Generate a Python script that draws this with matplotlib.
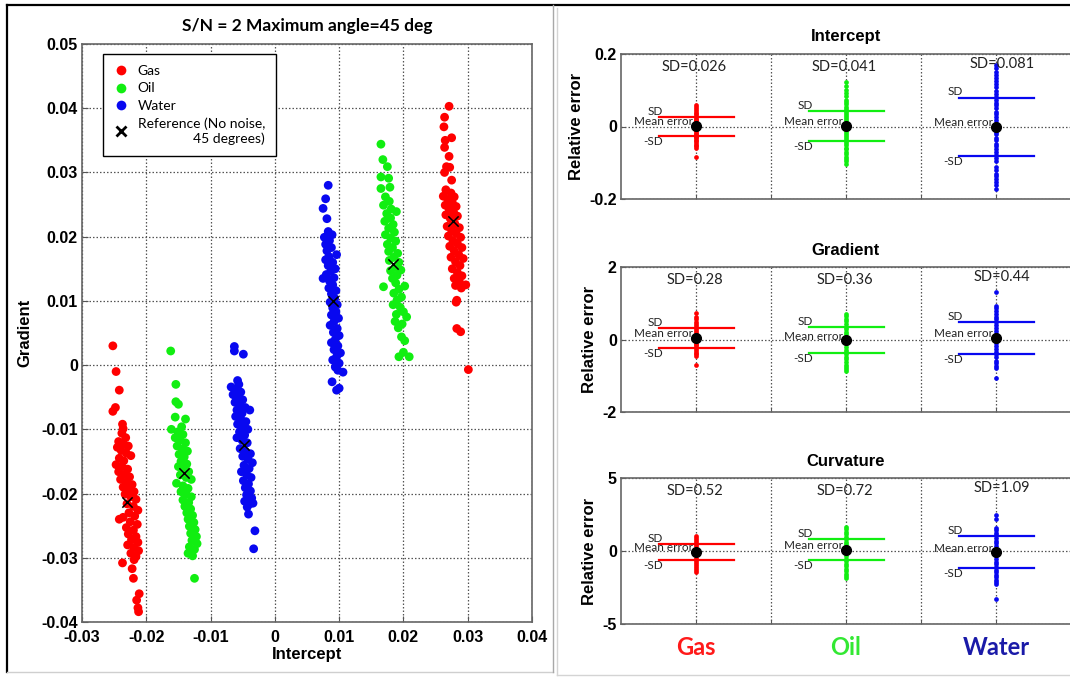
import numpy as np
import matplotlib.pyplot as plt
from matplotlib.lines import Line2D
from matplotlib.ticker import FuncFormatter
from matplotlib.transforms import blended_transform_factory

plt.rcParams['font.family'] = ['Liberation Sans', 'DejaVu Sans']
plt.rcParams['axes.unicode_minus'] = False

# ---- crossplot: intercept vs gradient, two reflectors per fluid ----
gas_x = [-0.0252, -0.0247, -0.0242, -0.0248, -0.0252, -0.0237, -0.0236,
         -0.0238, -0.0232, -0.0243, -0.0236, -0.0228, -0.0245, -0.0239, -0.0231, -0.0224, -0.0242,
         -0.0235, -0.0247, -0.0238, -0.0229, -0.0243, -0.0234, -0.0226, -0.0240, -0.0231, -0.0222,
         -0.0236, -0.0228, -0.0219, -0.0233, -0.0224, -0.0216, -0.0230, -0.0220, -0.0213, -0.0227,
         -0.0218, -0.0236, -0.0225, -0.0214, -0.0231, -0.0220, -0.0228, -0.0216, -0.0223, -0.0213,
         -0.0229, -0.0219, -0.0212, -0.0224, -0.0216, -0.0219,
         -0.0242, -0.0237, -0.0222, -0.0220, -0.0211, -0.0215, -0.0212, -0.0213,
         0.0271, 0.0264, 0.0263, 0.0275, 0.0265, 0.0264, 0.0271, 0.0267, 0.0272, 0.0264, 0.0275,
         0.0266, 0.0274, 0.0262, 0.0279, 0.0269, 0.0276, 0.0265, 0.0282, 0.0271, 0.0278, 0.0266,
         0.0284, 0.0273, 0.0280, 0.0268, 0.0287, 0.0275, 0.0282, 0.0270, 0.0289, 0.0277, 0.0284,
         0.0272, 0.0291, 0.0279, 0.0286, 0.0274, 0.0293, 0.0281, 0.0288, 0.0276, 0.0284, 0.0291,
         0.0279, 0.0287, 0.0281, 0.0290,
         0.0297, 0.0283, 0.0282, 0.0283, 0.0289, 0.0301]
gas_y = [0.0030, -0.0010, -0.0039, -0.0066, -0.0072, -0.0092, -0.0099,
         -0.0106, -0.0113, -0.0119, -0.0123, -0.0126, -0.0128, -0.0133, -0.0137, -0.0141, -0.0145,
         -0.0149, -0.0155, -0.0158, -0.0162, -0.0166, -0.0170, -0.0174, -0.0178, -0.0182, -0.0186,
         -0.0190, -0.0194, -0.0197, -0.0201, -0.0205, -0.0209, -0.0216, -0.0220, -0.0226, -0.0230,
         -0.0235, -0.0237, -0.0244, -0.0248, -0.0253, -0.0257, -0.0263, -0.0267, -0.0272, -0.0276,
         -0.0280, -0.0284, -0.0289, -0.0293, -0.0298, -0.0303,
         -0.0240, -0.0308, -0.0317, -0.0332, -0.0356, -0.0366, -0.0384, -0.0378,
         0.0403, 0.0386, 0.0371, 0.0354, 0.0350, 0.0339, 0.0325, 0.0309, 0.0308, 0.0300, 0.0288,
         0.0273, 0.0268, 0.0263, 0.0262, 0.0258, 0.0253, 0.0249, 0.0247, 0.0243, 0.0238, 0.0234,
         0.0232, 0.0228, 0.0220, 0.0216, 0.0214, 0.0210, 0.0205, 0.0201, 0.0199, 0.0194, 0.0189,
         0.0185, 0.0183, 0.0178, 0.0172, 0.0168, 0.0166, 0.0161, 0.0155, 0.0150, 0.0144, 0.0139,
         0.0135, 0.0130, 0.0124, 0.0120,
         0.0125, 0.0101, 0.0098, 0.0057, 0.0052, -0.0007]

oil_x = [-0.0162, -0.0154, -0.0154, -0.0150, -0.0155, -0.0139, -0.0161, -0.0145,
         -0.0151, -0.0143, -0.0155, -0.0147, -0.0139, -0.0152, -0.0144, -0.0136, -0.0149, -0.0141,
         -0.0146, -0.0137, -0.0150, -0.0142, -0.0134, -0.0147, -0.0138, -0.0130, -0.0153, -0.0143,
         -0.0135, -0.0146, -0.0138, -0.0130, -0.0143, -0.0134, -0.0140, -0.0131, -0.0137, -0.0128,
         -0.0135, -0.0126, -0.0133, -0.0124, -0.0131, -0.0122, -0.0129, -0.0121, -0.0133, -0.0125,
         -0.0135, -0.0128, -0.0125,
         0.0165, 0.0168, 0.0175, 0.0165, 0.0177, 0.0165, 0.0179,
         0.0172, 0.0178, 0.0169, 0.0181, 0.0189, 0.0174, 0.0180, 0.0171, 0.0184, 0.0177, 0.0186,
         0.0172, 0.0180, 0.0188, 0.0175, 0.0183, 0.0177, 0.0191, 0.0185, 0.0178, 0.0193, 0.0187,
         0.0180, 0.0196, 0.0190, 0.0183, 0.0169, 0.0202, 0.0188, 0.0193, 0.0185, 0.0197, 0.0190,
         0.0184, 0.0195, 0.0200, 0.0189, 0.0187, 0.0205, 0.0198, 0.0192,
         0.0197, 0.0202, 0.0193, 0.0209, 0.0200]
oil_y = [0.0022, -0.0030, -0.0057, -0.0061, -0.0081, -0.0084, -0.0100, -0.0096,
         -0.0104, -0.0108, -0.0113, -0.0117, -0.0121, -0.0126, -0.0131, -0.0134, -0.0139, -0.0143,
         -0.0150, -0.0154, -0.0158, -0.0162, -0.0166, -0.0171, -0.0175, -0.0178, -0.0184, -0.0188,
         -0.0192, -0.0197, -0.0201, -0.0205, -0.0210, -0.0214, -0.0220, -0.0224, -0.0230, -0.0234,
         -0.0240, -0.0245, -0.0251, -0.0256, -0.0262, -0.0267, -0.0273, -0.0278, -0.0283, -0.0287,
         -0.0293, -0.0297, -0.0332,
         0.0344, 0.0320, 0.0309, 0.0293, 0.0291, 0.0275, 0.0277,
         0.0262, 0.0255, 0.0249, 0.0243, 0.0239, 0.0236, 0.0229, 0.0224, 0.0219, 0.0213, 0.0207,
         0.0203, 0.0198, 0.0193, 0.0188, 0.0183, 0.0177, 0.0174, 0.0168, 0.0163, 0.0160, 0.0152,
         0.0147, 0.0148, 0.0140, 0.0135, 0.0122, 0.0123, 0.0128, 0.0118, 0.0112, 0.0106, 0.0101,
         0.0094, 0.0090, 0.0083, 0.0079, 0.0068, 0.0075, 0.0064, 0.0058,
         0.0044, 0.0038, 0.0013, 0.0013, 0.0020]

water_x = [-0.0063, -0.0063, -0.0049,
           -0.0058, -0.0068, -0.0056, -0.0062, -0.0053, -0.0065, -0.0057, -0.0050, -0.0062, -0.0054,
           -0.0046, -0.0059, -0.0039, -0.0051, -0.0061, -0.0053, -0.0045, -0.0058, -0.0050, -0.0042,
           -0.0055, -0.0047, -0.0059, -0.0051, -0.0043, -0.0054, -0.0046, -0.0038, -0.0050, -0.0042,
           -0.0035, -0.0048, -0.0040, -0.0052, -0.0044, -0.0037, -0.0049, -0.0041, -0.0046, -0.0038,
           -0.0044, -0.0036, -0.0047, -0.0039, -0.0034, -0.0043,
           -0.0041, -0.0031, -0.0033,
           0.0083, 0.0079, 0.0075, 0.0081,
           0.0083, 0.0089, 0.0077, 0.0085, 0.0079, 0.0088, 0.0081, 0.0096, 0.0084, 0.0079, 0.0090,
           0.0083, 0.0094, 0.0087, 0.0080, 0.0075, 0.0092, 0.0085, 0.0090, 0.0084, 0.0095, 0.0088,
           0.0093, 0.0086, 0.0097, 0.0090, 0.0095, 0.0088, 0.0099, 0.0092, 0.0086, 0.0097, 0.0091,
           0.0100, 0.0094, 0.0088, 0.0098, 0.0092, 0.0102, 0.0096, 0.0090, 0.0100, 0.0094, 0.0098,
           0.0106, 0.0089, 0.0096, 0.0100]
water_y = [0.0029, 0.0022, 0.0017,
           -0.0024, -0.0034, -0.0030, -0.0038, -0.0042, -0.0046, -0.0050, -0.0054, -0.0058, -0.0062,
           -0.0066, -0.0070, -0.0070, -0.0075, -0.0080, -0.0084, -0.0088, -0.0092, -0.0096, -0.0100,
           -0.0104, -0.0109, -0.0113, -0.0117, -0.0121, -0.0130, -0.0134, -0.0138, -0.0142, -0.0146,
           -0.0152, -0.0156, -0.0161, -0.0166, -0.0170, -0.0175, -0.0180, -0.0185, -0.0191, -0.0196,
           -0.0202, -0.0207, -0.0212, -0.0216, -0.0215, -0.0221,
           -0.0232, -0.0258, -0.0286,
           0.0280, 0.0259, 0.0244, 0.0228,
           0.0208, 0.0203, 0.0199, 0.0194, 0.0188, 0.0183, 0.0178, 0.0172, 0.0169, 0.0164, 0.0160,
           0.0155, 0.0150, 0.0146, 0.0141, 0.0135, 0.0136, 0.0131, 0.0125, 0.0120, 0.0116, 0.0111,
           0.0104, 0.0098, 0.0094, 0.0089, 0.0083, 0.0078, 0.0073, 0.0068, 0.0062, 0.0057, 0.0051,
           0.0046, 0.0040, 0.0035, 0.0030, 0.0024, 0.0019, 0.0013, 0.0008, 0.0003, -0.0003, -0.0008,
           -0.0011, -0.0026, -0.0039, -0.0036]

# noise-free reference at 45 degrees
ref_x = [-0.0230, -0.0141, -0.0048, 0.0091, 0.0184, 0.0277]
ref_y = [-0.0213, -0.0168, -0.0124, 0.0100, 0.0158, 0.0224]

# ---- relative errors per attribute (Gas, Oil, Water) ----
fluids = ['Gas', 'Oil', 'Water']

int_gas = [0.058, 0.053, 0.047, 0.042, 0.038, 0.034, 0.029, 0.026, 0.021, 0.018, 0.014, 0.011,
           0.007, 0.004, 0.001, -0.003, -0.006, -0.010, -0.013, -0.018, -0.021, -0.025, -0.030,
           -0.033, -0.038, -0.041, -0.046, -0.050, -0.055, -0.060, -0.085]
int_oil = [0.123, 0.111, 0.100, 0.093, 0.085, 0.072, 0.067, 0.061, 0.054, 0.049, 0.043, 0.038,
           0.032, 0.027, 0.021, 0.016, 0.010, 0.005, 0.000, -0.006, -0.012, -0.018, -0.023, -0.028,
           -0.034, -0.041, -0.046, -0.052, -0.058, -0.063, -0.070, -0.076, -0.083, -0.089, -0.095,
           -0.103]
int_water = [0.169, 0.161, 0.151, 0.142, 0.134, 0.126, 0.116, 0.108, 0.099, 0.091, 0.082, 0.074,
             0.065, 0.058, 0.050, 0.041, 0.034, 0.025, 0.018, 0.009, 0.002, -0.006, -0.015, -0.022,
             -0.031, -0.038, -0.047, -0.054, -0.062, -0.071, -0.078, -0.087, -0.094, -0.113,
             -0.121, -0.130, -0.137, -0.146, -0.153, -0.161, -0.173]

grad_gas = [0.74, 0.62, 0.56, 0.49, 0.43, 0.38, 0.31, 0.25, 0.20, 0.14, 0.09, 0.04, -0.02, -0.06,
            -0.12, -0.16, -0.21, -0.27, -0.31, -0.36, -0.41, -0.45, -0.70]
grad_oil = [0.71, 0.64, 0.56, 0.50, 0.43, 0.35, 0.29, 0.22, 0.14, 0.08, 0.01, -0.07, -0.13, -0.20,
            -0.28, -0.34, -0.41, -0.49, -0.55, -0.62, -0.70, -0.76, -0.82, -0.86]
grad_water = [1.30, 0.93, 0.86, 0.78, 0.71, 0.63, 0.56, 0.47, 0.40, 0.31, 0.23, 0.16, 0.07, -0.01,
              -0.10, -0.17, -0.25, -0.34, -0.41, -0.49, -0.58, -0.65, -0.72, -0.78, -1.05]

curv_gas = [1.03, 0.91, 0.75, 0.61, 0.45, 0.31, 0.14, 0.01, -0.15, -0.29, -0.46, -0.60, -0.76,
            -0.90, -1.05, -1.19, -1.32, -1.42]
curv_oil = [1.66, 1.49, 1.33, 1.17, 0.99, 0.83, 0.65, 0.49, 0.31, 0.15, -0.03, -0.19, -0.37, -0.53,
            -0.71, -0.87, -1.05, -1.21, -1.39, -1.55, -1.72, -1.85]
curv_water = [2.50, 2.22, 1.60, 1.43, 1.24, 1.07, 0.88, 0.71, 0.52, 0.35, 0.16, -0.01, -0.20, -0.37,
              -0.56, -0.73, -0.92, -1.09, -1.28, -1.45, -1.64, -1.81, -2.00, -2.14, -2.26, -3.30]

int_mean = [0.001, 0.002, -0.001]
int_sd = [0.026, 0.041, 0.081]
grad_mean = [0.04, -0.02, 0.05]
grad_sd = [0.28, 0.36, 0.44]
curv_mean = [-0.07, 0.10, -0.08]
curv_sd = [0.52, 0.72, 1.09]

fluid_colors = ['#ff0000', '#11ee11', '#0808f0']
label_colors = ['#ff1a1a', '#33e833', '#1a1aa8']

W, H = 1070.0, 677.0


def box(left, top, right, bottom):
    return [left / W, 1 - bottom / H, (right - left) / W, (bottom - top) / H]


fig = plt.figure(figsize=(W / 100, H / 100), dpi=100)

# panel frames
frame = [((7, 1070), (5, 5), 'black', 1.6), ((7, 7), (5, 672), 'black', 1.6),
         ((7, 553), (672, 672), '#cfcfcf', 1.0), ((553, 553), (5, 672), '#a8a8a8', 1.0),
         ((557, 557), (8, 675), '#d4d4d4', 1.0), ((557, 1070), (675, 675), '#d4d4d4', 1.0)]
for xs, ys, c, lw in frame:
    fig.add_artist(Line2D([x / W for x in xs], [1 - y / H for y in ys], color=c, lw=lw))

grid_style = dict(linestyle=(0, (1.2, 1.6)), color='#555555', linewidth=0.9)
tick_font = dict(family='Liberation Sans', weight='bold', size=11.5)

# ---- left crossplot ----
ax = fig.add_axes(box(82, 44, 532, 622))
ax.set_axisbelow(True)
ax.grid(True, **grid_style)
ax.scatter(gas_x, gas_y, s=40, c=fluid_colors[0], edgecolors='none', zorder=2)
ax.scatter(oil_x, oil_y, s=40, c=fluid_colors[1], edgecolors='none', zorder=2)
ax.scatter(water_x, water_y, s=40, c=fluid_colors[2], edgecolors='none', zorder=2)
ax.scatter(ref_x, ref_y, s=55, c='black', marker='x', linewidths=1.1, zorder=3)
ax.set_xlim(-0.03, 0.04)
ax.set_ylim(-0.04, 0.05)
ax.set_xticks(np.arange(-0.03, 0.0401, 0.01))
ax.set_yticks(np.arange(-0.04, 0.0501, 0.01))
fmt = FuncFormatter(lambda v, p: '%g' % round(v, 3))
ax.xaxis.set_major_formatter(fmt)
ax.yaxis.set_major_formatter(fmt)
ax.tick_params(direction='in', length=4, color='#555555', pad=3)
ax.tick_params(axis='x', pad=6)
for lab in ax.get_xticklabels() + ax.get_yticklabels():
    lab.set_fontproperties(tick_font)
for s in ax.spines.values():
    s.set_color('#666666')
    s.set_linewidth(1.2)
ax.set_xlabel('Intercept', fontsize=12, fontweight='bold', labelpad=1)
ax.set_ylabel('Gradient', fontsize=12, fontweight='bold', labelpad=6)
ax.set_title('S/N = 2 Maximum angle=45 deg', family='Lato', fontsize=12.5, fontweight='bold', pad=9)

handles = [Line2D([], [], ls='none', marker='o', ms=7, mfc=c, mec='none') for c in fluid_colors]
handles.append(Line2D([], [], ls='none', marker='x', ms=7, mew=2, color='black'))
leg = ax.legend(handles, fluids + ['Reference (No noise,\n45 degrees)'], loc='upper left',
                bbox_to_anchor=(0.047, 0.983), borderaxespad=0, fancybox=False,
                edgecolor='black', framealpha=1, prop={'family': 'Lato', 'size': 10},
                handlelength=1.0, handletextpad=0.7, labelspacing=0.4, borderpad=0.8)
leg.get_frame().set_linewidth(1.0)
for t in leg.get_texts():
    t.set_multialignment('right')

# ---- right: relative error per attribute ----
panels = [
    ('Intercept', 0.2, [int_gas, int_oil, int_water], int_mean, int_sd, '%.3f', (54, 199)),
    ('Gradient', 2, [grad_gas, grad_oil, grad_water], grad_mean, grad_sd, '%.2f', (267, 412)),
    ('Curvature', 5, [curv_gas, curv_oil, curv_water], curv_mean, curv_sd, '%.2f', (478, 624)),
]
cats = [1, 2, 3]
small = dict(family='Lato', fontsize=8.5, color='#222222')

for title, lim, strips, means, sds, sdfmt, (top, bottom) in panels:
    a = fig.add_axes(box(621, top, 1071, bottom))
    a.set_xlim(0.5, 3.5)
    a.set_ylim(-lim, lim)
    a.set_xticks([1, 1.5, 2, 2.5, 3])
    a.set_xticklabels([])
    a.set_yticks([-lim, 0, lim])
    a.yaxis.set_major_formatter(FuncFormatter(lambda v, p: '%g' % v))
    a.set_axisbelow(True)
    a.grid(True, **grid_style)
    a.tick_params(direction='in', length=3, color='#555555', pad=3)
    for lab in a.get_yticklabels():
        lab.set_fontproperties(tick_font)
    for s in a.spines.values():
        s.set_color('#666666')
        s.set_linewidth(1.2)
    a.set_ylabel('Relative error', fontsize=12, fontweight='bold', labelpad=4)
    a.set_title(title, fontsize=12, fontweight='bold', pad=9)

    for cat, vals, m, sd, col in zip(cats, strips, means, sds, fluid_colors):
        a.plot([cat] * len(vals), vals, 'o', ms=3.4, color=col, mec='none', zorder=2)
        a.plot([cat - 0.25, cat + 0.25], [m + sd, m + sd], color=col, lw=1.6, zorder=2)
        a.plot([cat - 0.25, cat + 0.25], [m - sd, m - sd], color=col, lw=1.6, zorder=2)
        a.plot(cat, m, 'o', ms=7, color='black', zorder=4)
        a.annotate('SD', (cat - 0.25, m + sd), xytext=(3, 4), textcoords='offset points',
                   ha='right', va='center', **small)
        a.annotate('-SD', (cat - 0.25, m - sd), xytext=(3, -4), textcoords='offset points',
                   ha='right', va='center', **small)
        a.annotate('Mean error', (cat - 0.02, m), xytext=(0, 3), textcoords='offset points',
                   ha='right', va='center', **small)
        dx, fy = (0.04, 0.86) if cat == 3 else (-0.01, 0.82)
        sd_text = 'SD=' + sdfmt % sd
        a.text(cat + dx, fy * lim, sd_text, ha='center', va='center',
               family='Lato', fontsize=10.5, color='#222222')

    if title == 'Curvature':
        tr = blended_transform_factory(a.transData, a.transAxes)
        for cat, name, col in zip(cats, fluids, label_colors):
            a.text(cat, -0.16, name, transform=tr, ha='center', va='center',
                   family='Lato', fontsize=17, fontweight='bold', color=col)

fig.savefig('out.png', dpi=100)
